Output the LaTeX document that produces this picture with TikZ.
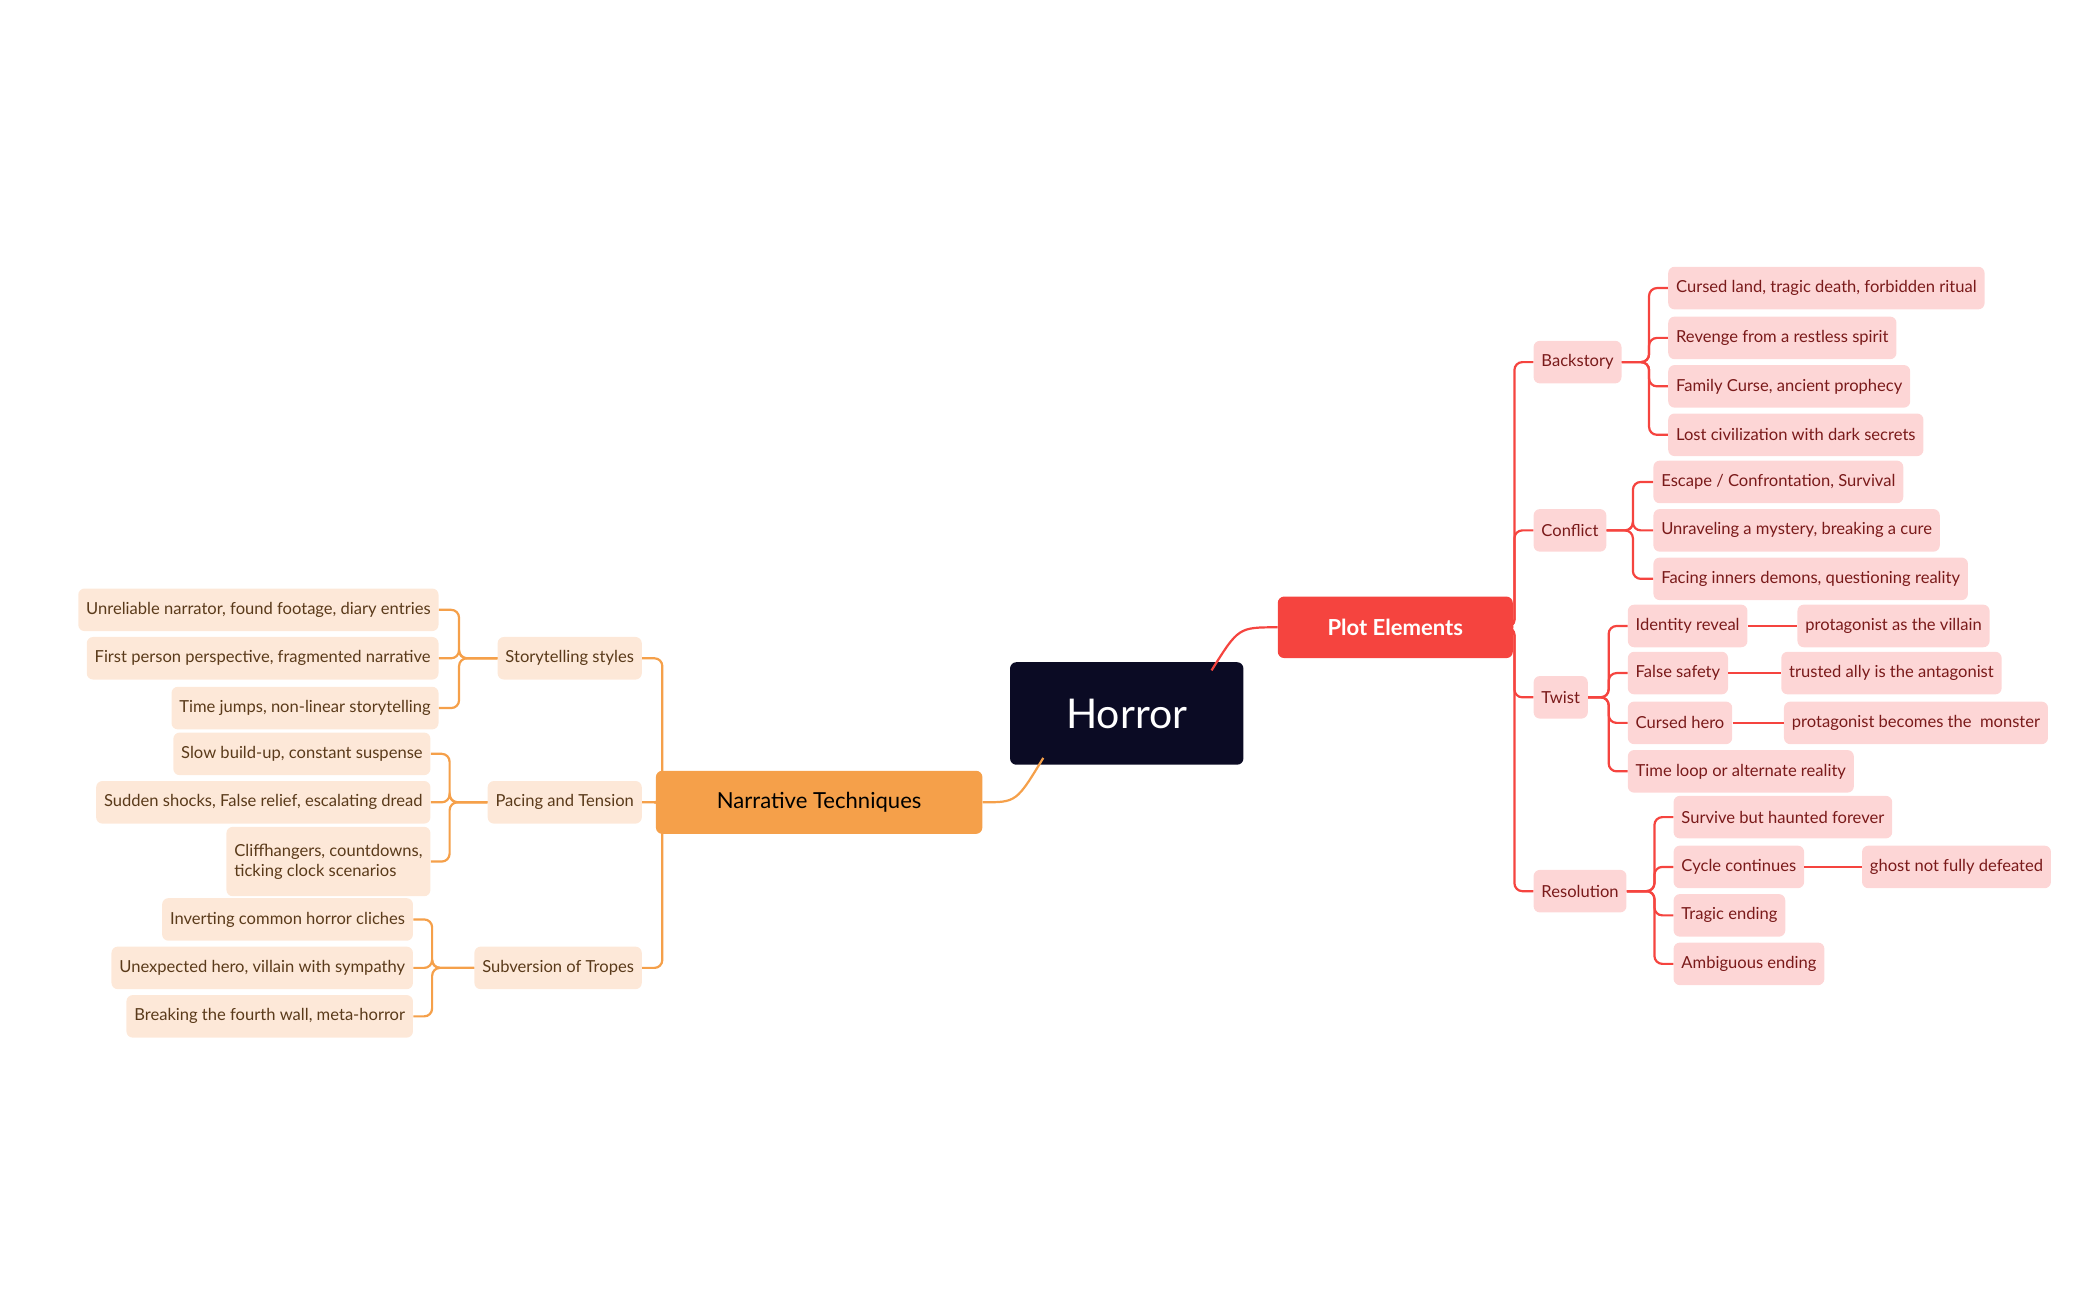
\documentclass[tikz,border=0pt]{standalone}
\usepackage{fontspec}
\setmainfont{Lato}
\usepackage{xcolor}
\usetikzlibrary{calc}
\definecolor{rootc}{HTML}{0B0B24}
\definecolor{plotc}{HTML}{F5443F}
\definecolor{narrc}{HTML}{F5A04A}
\definecolor{pinkc}{HTML}{FDD6D6}
\definecolor{peachc}{HTML}{FDE8D8}
\definecolor{redtxt}{HTML}{7A1A1A}
\definecolor{browntxt}{HTML}{5A3A1A}
\tikzset{
  box/.style={rounded corners=4pt, minimum height=27, inner xsep=5, inner ysep=2,
    font=\fontsize{10.5}{12.5}\selectfont},
  rleaf/.style={box, fill=pinkc, text=redtxt, anchor=west},
  lleaf/.style={box, fill=peachc, text=browntxt, anchor=east},
  rlink/.style={plotc, line width=1.4pt, rounded corners=5pt},
  llink/.style={narrc, line width=1.4pt, rounded corners=5pt}
}
\begin{document}
\begin{tikzpicture}[x=0.3mm, y=-0.3mm]
    \useasboundingbox (0,0) rectangle (1560,965);
    % main nodes
    \node[rounded corners=4pt, fill=rootc, text=white, minimum width=148, minimum height=65,
      font=\fontsize{26}{30}\selectfont] (root) at (837,530) {Horror};
    \node[rounded corners=4pt, fill=plotc, text=white, minimum width=149, minimum height=39,
      font=\fontsize{14}{16}\selectfont\bfseries] (plot) at (1036.5,466) {Plot Elements};
    \node[rounded corners=4pt, fill=narrc, text=black, minimum width=207, minimum height=40,
      font=\fontsize{14}{16}\selectfont] (narr) at (608.5,596) {Narrative Techniques};
    \draw[plotc, line width=1.4pt] (900,498) .. controls (920,466) .. (plot.west);
    \draw[narrc, line width=1.4pt] (775,563) .. controls (755,596) .. (narr.east);
    % plot elements
    \node[rleaf] (back) at (1139,269) {Backstory};
    \node[rleaf] (conf) at (1139,394) {Conflict};
    \node[rleaf] (twist) at (1139,518) {Twist};
    \node[rleaf] (reso) at (1139,662) {Resolution};
    \foreach \c in {back,conf,twist,reso}
      \draw[rlink] (plot.east) -- (1125,466) |- (\c.west);
    \node[rleaf] (b1) at (1239,214) {Cursed land, tragic death, forbidden ritual};
    \node[rleaf] (b2) at (1239,251) {Revenge from a restless spirit};
    \node[rleaf] (b3) at (1239,287) {Family Curse, ancient prophecy};
    \node[rleaf] (b4) at (1239,323) {Lost civilization with dark secrets};
    \foreach \c in {b1,b2,b3,b4}
      \draw[rlink] (back.east) -- (1225,269) |- (\c.west);
    \node[rleaf] (c1) at (1228,358) {Escape / Confrontation, Survival};
    \node[rleaf] (c2) at (1228,394) {Unraveling a mystery, breaking a cure};
    \node[rleaf] (c3) at (1228,430) {Facing inners demons, questioning reality};
    \foreach \c in {c1,c2,c3}
      \draw[rlink] (conf.east) -- (1213,394) |- (\c.west);
    \node[rleaf] (t1) at (1209,465) {Identity reveal};
    \node[rleaf] (t2) at (1209,500) {False safety};
    \node[rleaf] (t3) at (1209,537) {Cursed hero};
    \node[rleaf] (t4) at (1209,573) {Time loop or alternate reality};
    \foreach \c in {t1,t2,t3,t4}
      \draw[rlink] (twist.east) -- (1195,518) |- (\c.west);
    \node[rleaf] (t1a) at (1335,465) {protagonist as the villain};
    \node[rleaf] (t2a) at (1323,500) {trusted ally is the antagonist};
    \node[rleaf] (t3a) at (1325,537) {protagonist becomes the \ monster};
    \draw[rlink] (t1) -- (t1a);
    \draw[rlink] (t2) -- (t2a);
    \draw[rlink] (t3) -- (t3a);
    \node[rleaf] (r1) at (1243,607) {Survive but haunted forever};
    \node[rleaf] (r2) at (1243,644) {Cycle continues};
    \node[rleaf] (r3) at (1243,680) {Tragic ending};
    \node[rleaf] (r4) at (1243,716) {Ambiguous ending};
    \foreach \c in {r1,r2,r3,r4}
      \draw[rlink] (reso.east) -- (1229,662) |- (\c.west);
    \node[rleaf] (r2a) at (1383,644) {ghost not fully defeated};
    \draw[rlink] (r2) -- (r2a);
    % narrative techniques
    \node[lleaf] (story) at (477,489) {Storytelling styles};
    \node[lleaf] (pace) at (477,596) {Pacing and Tension};
    \node[lleaf] (subv) at (477,719) {Subversion of Tropes};
    \foreach \c in {story,pace,subv}
      \draw[llink] (narr.west) -- (492,596) |- (\c.east);
    \node[lleaf] (s1) at (326,453) {Unreliable narrator, found footage, diary entries};
    \node[lleaf] (s2) at (326,489) {First person perspective, fragmented narrative};
    \node[lleaf] (s3) at (326,526) {Time jumps, non-linear storytelling};
    \foreach \c in {s1,s2,s3}
      \draw[llink] (story.west) -- (341,489) |- (\c.east);
    \node[lleaf] (p1) at (320,560) {Slow build-up, constant suspense};
    \node[lleaf] (p2) at (320,596) {Sudden shocks, False relief, escalating dread};
    \node[lleaf, minimum height=44, align=left] (p3) at (320,640) {Cliffhangers, countdowns,\\ticking clock scenarios};
    \foreach \c in {p1,p2,p3}
      \draw[llink] (pace.west) -- (334,596) |- (\c.east);
    \node[lleaf] (v1) at (307,683) {Inverting common horror cliches};
    \node[lleaf] (v2) at (307,719) {Unexpected hero, villain with sympathy};
    \node[lleaf] (v3) at (307,755) {Breaking the fourth wall, meta-horror};
    \foreach \c in {v1,v2,v3}
      \draw[llink] (subv.west) -- (321,719) |- (\c.east);
\end{tikzpicture}
\end{document}
